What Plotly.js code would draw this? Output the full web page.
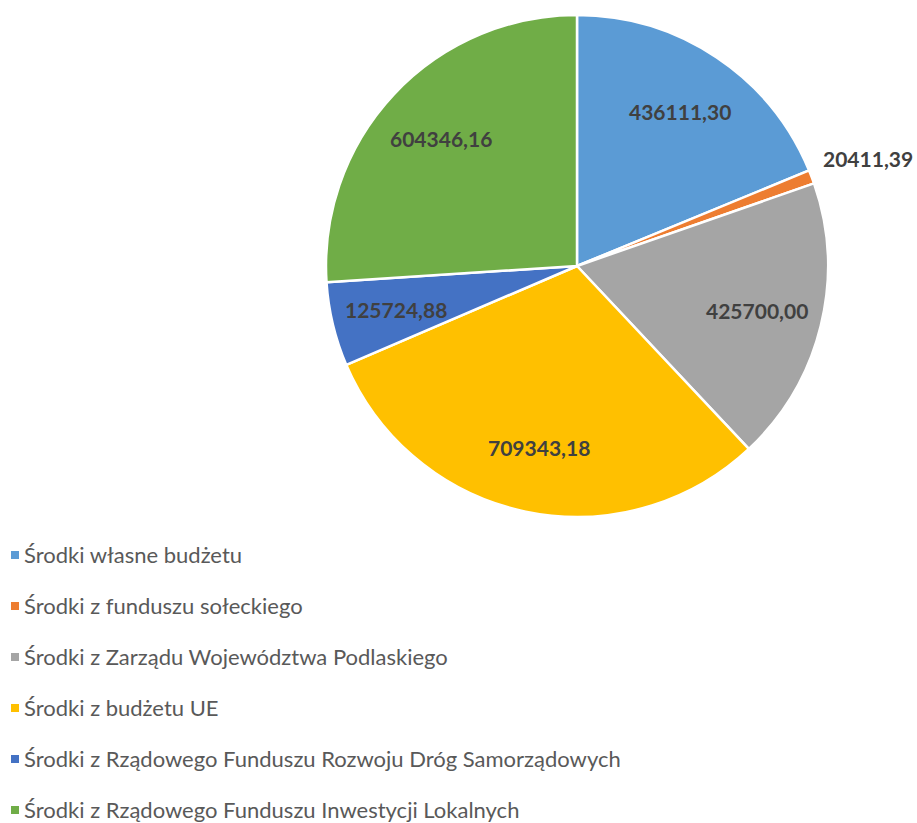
<!DOCTYPE html>
<html>
<head>
<meta charset="utf-8">
<script src="https://cdn.plot.ly/plotly-3.0.1.min.js"></script>
<style>html,body{margin:0;padding:0;background:#fff;}#chart{width:917px;height:823px;}</style>
</head>
<body>
<div id="chart"></div>
<script>
const categories = [
  "Środki własne budżetu",
  "Środki z funduszu sołeckiego",
  "Środki z Zarządu Województwa Podlaskiego",
  "Środki z budżetu UE",
  "Środki z Rządowego Funduszu Rozwoju Dróg Samorządowych",
  "Środki z Rządowego Funduszu Inwestycji Lokalnych"
];
const values = [436111.30, 20411.39, 425700.00, 709343.18, 125724.88, 604346.16];
const valueLabels = ["436111,30", "20411,39", "425700,00", "709343,18", "125724,88", "604346,16"];
const colors = ["#5B9BD5", "#ED7D31", "#A5A5A5", "#FFC000", "#4472C4", "#70AD47"];

const W = 917, H = 823;
const FONT = "Lato, 'Open Sans', sans-serif";

// pie geometry (pixels)
const pieLeft = 326, pieRight = 828, pieTop = 15, pieBottom = 517;
const cx = (pieLeft + pieRight) / 2, cy = (pieTop + pieBottom) / 2;
const R = (pieRight - pieLeft) / 2;

const trace = {
  type: "pie",
  labels: categories,
  values: values,
  textinfo: "none",
  sort: false,
  direction: "clockwise",
  rotation: 0,
  marker: { colors: colors, line: { color: "#ffffff", width: 2.5 } },
  hoverinfo: "label+value",
  showlegend: false,
  domain: { x: [pieLeft / W, pieRight / W], y: [1 - pieBottom / H, 1 - pieTop / H] }
};

// Data labels placed at each slice's mid-angle (derived from the values)
const total = values.reduce((a, b) => a + b, 0);
let cum = 0;
const labelAnnotations = values.map((v, i) => {
  const frac = v / total;
  const mid = (cum + frac / 2) * 2 * Math.PI;
  cum += frac;
  const small = frac < 0.03;
  const rf = small ? 1.04 : 0.74;
  const px = cx + R * rf * Math.sin(mid);
  const py = cy - R * rf * Math.cos(mid);
  return {
    xref: "paper", yref: "paper",
    x: px / W, y: 1 - py / H,
    xanchor: small ? "left" : "center",
    yanchor: small ? "bottom" : "middle",
    text: valueLabels[i], showarrow: false,
    font: { family: FONT, size: 21, color: "#404040", weight: "bold" }
  };
});

// Legend drawn as annotations + square markers built from the category list
const legendTop = 554, legendStep = 51;
const legendAnnotations = categories.map((c, i) => ({
  xref: "paper", yref: "paper",
  x: 22 / W, y: 1 - (legendTop + i * legendStep) / H,
  xanchor: "left", yanchor: "middle",
  text: c, showarrow: false,
  font: { family: FONT, size: 22, color: "#595959" }
}));
const shapes = categories.map((c, i) => {
  const yc = legendTop + i * legendStep + 1;
  return {
    type: "rect", xref: "paper", yref: "paper",
    x0: 11 / W, x1: 19 / W, y0: 1 - (yc + 4) / H, y1: 1 - (yc - 4) / H,
    fillcolor: colors[i], line: { width: 0 }
  };
});

const layout = {
  width: W, height: H,
  margin: { l: 0, r: 0, t: 0, b: 0 },
  paper_bgcolor: "#ffffff",
  showlegend: false,
  annotations: labelAnnotations.concat(legendAnnotations),
  shapes: shapes
};

Plotly.newPlot("chart", [trace], layout, { displayModeBar: false, staticPlot: true });
</script>
</body>
</html>
